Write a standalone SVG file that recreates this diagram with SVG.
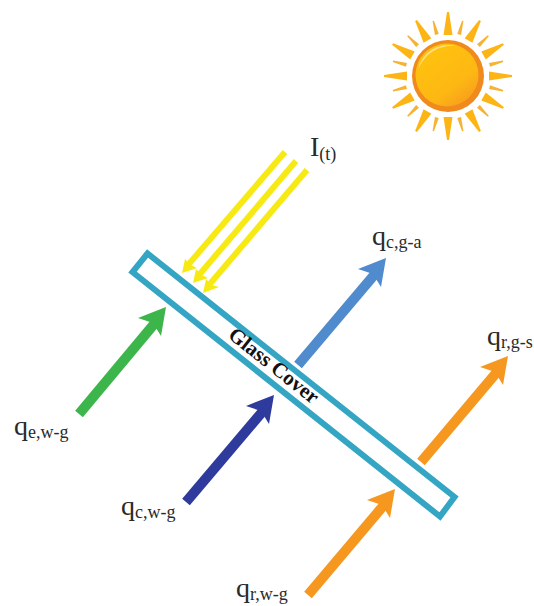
<svg xmlns="http://www.w3.org/2000/svg" width="534" height="606" viewBox="0 0 534 606">
<style>
.t{font-family:"Liberation Serif","Times New Roman",serif;fill:#2a2a2a;font-size:28px}
.s{font-size:18px}
.sh{fill:none;stroke-width:10}
.y{stroke:#f7ea14;stroke-width:6;fill:none}
.yh{fill:#f7ea14}
</style>
<defs>
<linearGradient id="g" x1="0.2" y1="0.1" x2="0.8" y2="0.9"><stop offset="0" stop-color="#ffc20e"/><stop offset="0.7" stop-color="#fdb813"/><stop offset="1" stop-color="#f9a11b"/></linearGradient>
<path id="big" d="M-4.500-41L4.500-41L1-64L-1-64Z" fill="#fdb515"/>
<path id="thin" d="M-2-43L2-43L.7-57L-.7-57Z" fill="#f6b233"/>
<path id="head" d="M0 0L-28 11L-13 16L-5 29Z"/>
</defs>
<rect width="534" height="606" fill="#fff"/>
<g id="sun" transform="translate(448 76)">
<use href="#big"/><use href="#thin" transform="rotate(15)"/><use href="#big" transform="rotate(30)"/><use href="#thin" transform="rotate(45)"/><use href="#big" transform="rotate(60)"/><use href="#thin" transform="rotate(75)"/><use href="#big" transform="rotate(90)"/><use href="#thin" transform="rotate(105)"/><use href="#big" transform="rotate(120)"/><use href="#thin" transform="rotate(135)"/><use href="#big" transform="rotate(150)"/><use href="#thin" transform="rotate(165)"/><use href="#big" transform="rotate(180)"/><use href="#thin" transform="rotate(195)"/><use href="#big" transform="rotate(210)"/><use href="#thin" transform="rotate(225)"/><use href="#big" transform="rotate(240)"/><use href="#thin" transform="rotate(255)"/><use href="#big" transform="rotate(270)"/><use href="#thin" transform="rotate(285)"/><use href="#big" transform="rotate(300)"/><use href="#thin" transform="rotate(315)"/><use href="#big" transform="rotate(330)"/><use href="#thin" transform="rotate(345)"/>
<circle r="36" fill="#f08a1d"/>
<circle cx="-1" cy="-1" r="31.500" fill="url(#g)"/>
<path d="M-30-6A31 31 0 0 1 8-30A36 36 0 0 0-30-6Z" fill="#ffe08a"/>
</g>
<g id="glass-cover">
<path d="M147.500 253.500L132.500 272L440 516.500L454.500 497Z" fill="#fff" stroke="#35a5c4" stroke-width="6"/>
<text transform="translate(227 337) rotate(38.500)" style="font-family:'Liberation Serif','Times New Roman',serif;font-size:21px;font-weight:bold;fill:#111">Glass Cover</text>
</g>
<g id="connectors">
<g class="y">
<path d="M285 152L188 265"/>
<path d="M296 161L199 275"/>
<path d="M307 170L209 285"/>
</g>
<path class="yh" d="M182 273L185 259L191 265L197 268Z"/>
<path class="yh" d="M193 283L196 269L202 275L208 278Z"/>
<path class="yh" d="M203 293L206 279L212 285L219 287Z"/>
<path class="sh" d="M79 414L155 323" stroke="#3cb64a"/>
<use href="#head" x="166" y="307" fill="#3cb64a"/>
<path class="sh" d="M186 502L263 411" stroke="#2e3b9d"/>
<use href="#head" x="274" y="395" fill="#2e3b9d"/>
<path class="sh" d="M298 365L375 274" stroke="#4f8bcd"/>
<use href="#head" x="386" y="258" fill="#4f8bcd"/>
<path class="sh" d="M308 595L384 505" stroke="#f6981f"/>
<use href="#head" x="395" y="489" fill="#f6981f"/>
<path class="sh" d="M421 462L497 372" stroke="#f6981f"/>
<use href="#head" x="508" y="356" fill="#f6981f"/>
</g>
<g id="label-it"><text class="t" x="310" y="156">I<tspan class="s" dy="4">(t)</tspan></text></g>
<g id="label-qcga"><text class="t" x="372" y="245">q<tspan class="s" dy="3">c,g-a</tspan></text></g>
<g id="label-qrgs"><text class="t" x="487" y="345">q<tspan class="s" dy="3">r,g-s</tspan></text></g>
<g id="label-qewg"><text class="t" x="14" y="435">q<tspan class="s" dy="3">e,w-g</tspan></text></g>
<g id="label-qcwg"><text class="t" x="121" y="515">q<tspan class="s" dy="3">c,w-g</tspan></text></g>
<g id="label-qrwg"><text class="t" x="236" y="597">q<tspan class="s" dy="3">r,w-g</tspan></text></g>
</svg>
